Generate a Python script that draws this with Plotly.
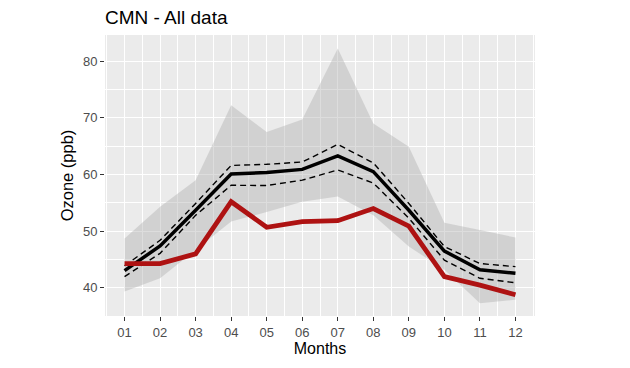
import plotly.graph_objects as go

months = list(range(1, 13))
month_labels = ["01", "02", "03", "04", "05", "06", "07", "08", "09", "10", "11", "12"]

mean_all = [43.05, 47.4, 53.7, 60.1, 60.35, 60.9, 63.3, 60.5, 53.7, 46.5, 43.2, 42.6]
ci_upper = [43.9, 48.4, 54.9, 61.6, 61.8, 62.2, 65.3, 62.05, 54.9, 47.3, 44.3, 43.75]
ci_lower = [42.0, 46.1, 52.8, 58.1, 58.06, 59.0, 60.8, 58.5, 52.3, 44.9, 41.7, 40.9]
range_upper = [48.7, 54.3, 59.0, 72.2, 67.5, 69.7, 82.2, 69.0, 64.9, 51.5, 50.2, 48.9]
range_lower = [39.35, 41.7, 46.7, 51.7, 53.4, 55.2, 56.1, 52.8, 47.3, 43.2, 37.3, 37.9]
red_series = [44.3, 44.3, 46.0, 55.2, 50.7, 51.7, 51.85, 54.0, 50.9, 42.0, 40.5, 38.8]

fig = go.Figure()
fig.add_trace(go.Scatter(x=months, y=range_upper, mode="lines", line=dict(width=0),
                         showlegend=False, hoverinfo="skip"))
fig.add_trace(go.Scatter(x=months, y=range_lower, mode="lines", line=dict(width=0),
                         fill="tonexty", fillcolor="rgba(175,175,175,0.42)",
                         showlegend=False, hoverinfo="skip"))
fig.add_trace(go.Scatter(x=months, y=ci_upper, mode="lines",
                         line=dict(color="black", width=1.4, dash="6px,4px"), showlegend=False))
fig.add_trace(go.Scatter(x=months, y=ci_lower, mode="lines",
                         line=dict(color="black", width=1.4, dash="6px,4px"), showlegend=False))
fig.add_trace(go.Scatter(x=months, y=mean_all, mode="lines",
                         line=dict(color="black", width=3.5), showlegend=False))
fig.add_trace(go.Scatter(x=months, y=red_series, mode="lines",
                         line=dict(color="#AE1212", width=4.8), showlegend=False))

# page body has an 8px default margin; the figure is sized/offset to compensate
fig.update_layout(
    width=622, height=360,
    margin=dict(l=97, r=95, t=27, b=52),
    paper_bgcolor="white", plot_bgcolor="#EBEBEB",
    font=dict(family="Liberation Sans, Arial, sans-serif", color="black"),
    title=dict(text="CMN - All data", x=0, xanchor="left", xref="paper",
               y=1 - 9/360, yanchor="middle", font=dict(size=19, color="black")),
    showlegend=False,
)
fig.update_xaxes(
    range=[0.45, 12.55], tickvals=months, ticktext=month_labels,
    showgrid=True, gridcolor="white", gridwidth=1.3,
    ticks="outside", ticklen=4, tickcolor="#333333", tickwidth=1,
    tickfont=dict(size=13, color="#4D4D4D"),
    minor=dict(tickvals=[m + 0.5 for m in range(0, 13)], showgrid=True,
               gridcolor="white", gridwidth=0.6, ticks=""),
    zeroline=False, showline=False,
    title=dict(text="Months", font=dict(size=16, color="black"), standoff=3),
)
fig.update_yaxes(
    range=[35.05, 84.6], tickvals=[40, 50, 60, 70, 80],
    showgrid=True, gridcolor="white", gridwidth=1.3,
    ticks="outside", ticklen=4, tickcolor="#333333", tickwidth=1,
    tickfont=dict(size=13, color="#4D4D4D"),
    minor=dict(tickvals=[35, 45, 55, 65, 75], showgrid=True,
               gridcolor="white", gridwidth=0.6, ticks=""),
    zeroline=False, showline=False,
    title=dict(text="Ozone (ppb)", font=dict(size=16.5, color="black"), standoff=5),
)

fig.write_html("out.html")
